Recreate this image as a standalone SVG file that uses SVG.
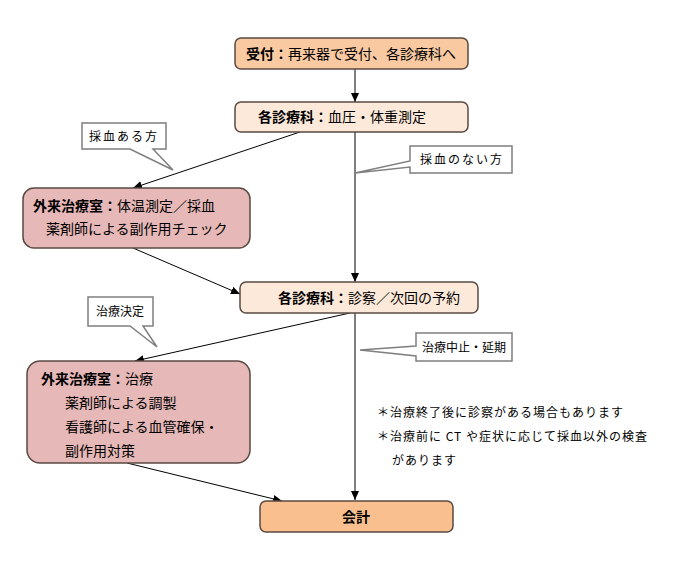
<svg xmlns="http://www.w3.org/2000/svg" width="675" height="566" viewBox="0 0 675 566">
<defs>
<marker id="ah" markerUnits="userSpaceOnUse" markerWidth="10" markerHeight="10" viewBox="0 0 10 10" refX="9" refY="5" orient="auto">
<path d="M0,1 L9,5 L0,9 Z" fill="#000"/>
</marker>
</defs>
<style>
text{font-family:"Noto Sans CJK JP","Noto Sans",sans-serif;fill:#000}
.box{stroke:#5a4a42;stroke-width:1.5}
.peach{fill:#F9C9A2}
.light{fill:#FDE9D9}
.rose{fill:#E6B8B7}
.orange{fill:#F9BF8F}
.t{font-size:14px}
.b{font-weight:bold}
.call{fill:#fff;stroke:#7f7f7f;stroke-width:1.5}
.ct{font-size:12px}
.note{font-size:12px;letter-spacing:1px}
.con line{stroke:#000;stroke-width:1;marker-end:url(#ah)}
</style>
<rect width="675" height="566" fill="#fff"/>
<g class="con">
<line x1="355" y1="69" x2="355" y2="102"/>
<line x1="300" y1="132" x2="133" y2="188"/>
<line x1="355" y1="132" x2="355" y2="282"/>
<line x1="133" y1="248" x2="240" y2="294"/>
<line x1="350" y1="313" x2="135" y2="361"/>
<line x1="355" y1="313" x2="355" y2="500"/>
<line x1="127" y1="463" x2="282" y2="501"/>
</g>
<g id="n1">
<rect class="box peach" x="235" y="38" width="233" height="31" rx="6"/>
<text class="t" x="351" y="59" text-anchor="middle"><tspan class="b">受付：</tspan>再来器で受付、各診療科へ</text>
</g>
<g id="n2">
<rect class="box light" x="235" y="102" width="233" height="30" rx="6"/>
<text class="t" x="258" y="122"><tspan class="b">各診療科：</tspan>血圧・体重測定</text>
</g>
<g id="n3">
<rect class="box rose" x="23" y="188" width="227" height="60" rx="11"/>
<text class="t" x="33" y="211"><tspan class="b">外来治療室：</tspan>体温測定／採血</text>
<text class="t" x="46" y="234">薬剤師による副作用チェック</text>
</g>
<g id="n4">
<rect class="box light" x="240" y="282" width="238" height="31" rx="6"/>
<text class="t" x="278" y="303"><tspan class="b">各診療科：</tspan>診察／次回の予約</text>
</g>
<g id="n5">
<rect class="box rose" x="27" y="361" width="223" height="102" rx="13"/>
<text class="t" x="41" y="384"><tspan class="b">外来治療室：</tspan>治療</text>
<text class="t" x="65" y="408">薬剤師による調製</text>
<text class="t" x="65" y="432">看護師による血管確保・</text>
<text class="t" x="65" y="456">副作用対策</text>
</g>
<g id="n6">
<rect class="box orange" x="260" y="501" width="193" height="31" rx="6"/>
<text class="t b" x="356" y="522" text-anchor="middle">会計</text>
</g>
<g id="c1">
<path class="call" d="M82,123 H166 V149 H153 L173,170 L130,149 H82 Z"/>
<text class="ct" x="124" y="141" text-anchor="middle" letter-spacing="2">採血ある方</text>
</g>
<g id="c2">
<path class="call" d="M410,146 H512 V173 H410 V167 L355,173 L410,161 Z"/>
<text class="ct" x="462" y="164" text-anchor="middle" letter-spacing="2">採血のない方</text>
</g>
<g id="c3">
<path class="call" d="M88,297 H153 V326 H143 L157,347 L130,326 H88 Z"/>
<text class="ct" x="120" y="316" text-anchor="middle">治療決定</text>
</g>
<g id="c4">
<path class="call" d="M416,333 H512 V361 H416 V356 L360,350 L416,346 Z"/>
<text class="ct" x="464" y="352" text-anchor="middle">治療中止・延期</text>
</g>
<g id="notes">
<text class="note" x="377" y="417">＊治療終了後に診察がある場合もあります</text>
<text class="note" x="377" y="441">＊治療前に CT や症状に応じて採血以外の検査</text>
<text class="note" x="392" y="465">があります</text>
</g>
</svg>
